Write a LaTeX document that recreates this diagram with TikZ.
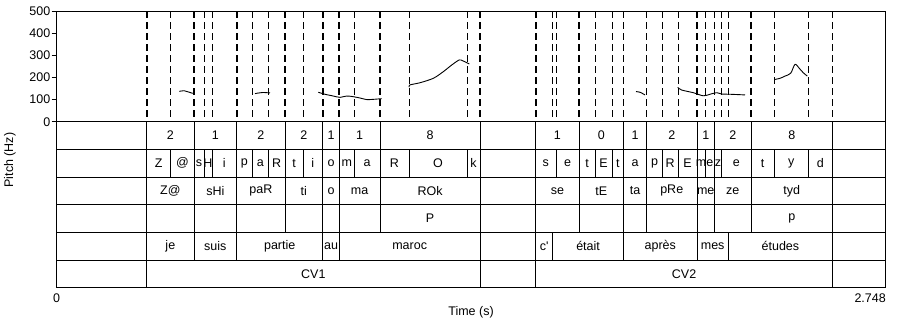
\documentclass[tikz,border=0pt]{standalone}
\usepackage{fontspec}
\newfontfamily\praatfont{Liberation Sans}
% one interval tier: name, top, bottom, intervals a/b/label
\newcommand{\tierrow}[4]{%
  \draw[sep] (56.7,#3) -- (885.7,#3);
  \foreach \a/\b/\txt [count=\i] in {#4} {
    \draw[bound] (\a,#2) -- (\a,#3);
    \draw[bound] (\b,#2) -- (\b,#3);
    \node[lab] (#1-\i) at ({(\a+\b)/2},{(#2+#3)/2}) {\txt};
  }%
}

\begin{document}
\begin{tikzpicture}[x=1bp,y=-1bp]
\tikzstyle{lab}=[font=\praatfont\fontsize{12.5bp}{14bp}\selectfont,inner sep=0pt]
\tikzstyle{sep}=[line width=1bp]
\tikzstyle{bound}=[line width=0.8bp]
\tikzstyle{thickdash}=[line width=1.9bp,dash pattern=on 6.5bp off 4.5bp]
\tikzstyle{thindash}=[line width=0.8bp,dash pattern=on 6.5bp off 4.5bp]
\tikzstyle{f0}=[line width=0.9bp,line join=round]
\useasboundingbox (0,0) rectangle (906,323);
\coordinate (TL) at (56.7,11);
\coordinate (BR) at (885.7,121.7);
\coordinate (GB) at (885.7,287.7);
% pitch panel
\draw[sep] (TL) rectangle (BR);
\begin{scope}[shift={(0,121.7)},y=0.2214bp]
  \foreach \v in {0,100,...,500} {
    \draw[sep] (51.7,\v) -- (56.7,\v);
    \node[lab,anchor=east] (hz\v) at (50.5,\v) {\v};
  }
  \foreach \x in {146.7,194,236.7,285,322.7,339.3,380,480,535.7,579,623.5,646.5,697,714.5,751,832.5}
    \draw[thickdash] (\x,500) -- (\x,0);
  \foreach \x in {170.7,204,212,252,268.5,303,354.3,409,467,552.7,556,595,612,662.5,678,705,721.7,728.3,774.3,808.3}
    \draw[thindash] (\x,500) -- (\x,0);
  \draw[f0] plot[smooth] coordinates {(179.3,137) (184,140) (188,135) (192.7,128)};
  \draw[f0] plot[smooth] coordinates {(255,127) (259,130) (263,132) (270,130)};
  \draw[f0] plot[smooth] coordinates {(318.3,133) (325,124) (333.3,116) (340,110) (346.7,116) (353.3,113) (360,107) (366.7,100) (373.3,101) (381.7,104)};
  \draw[f0] plot[smooth] coordinates {(409.3,156) (409.8,166) (420,176) (433.3,196) (443.3,226) (451.7,256) (459.3,279) (463.3,274) (469.3,261)};
  \draw[f0] plot[smooth] coordinates {(636,136) (640,133) (645,121)};
  \draw[f0] plot[smooth] coordinates {(677.7,155) (681.7,143) (693.3,131) (703.3,117) (710,124) (716.7,131) (721.7,125) (730,124) (745,121)};
  \draw[f0] plot[smooth] coordinates {(775,191) (780,196) (785,206) (790.7,219) (795,259) (799.3,241) (803.3,221) (807.3,206)};
\end{scope}
% tiers
\tierrow{num}{121.7}{149.4}{146.7/194/2, 194/236.7/1, 236.7/285/2, 285/322.7/2, 322.7/339.3/1, 339.3/380/1, 380/480/8, 535.7/579/1, 579/623.5/0, 623.5/646.5/1, 646.5/697/2, 697/714.5/1, 714.5/751/2, 751/832.5/8}
\tierrow{phone}{149.4}{177}{146.7/170.7/Z, 170.7/194/@, 194/204/s, 204/212/H, 212/236.7/i, 236.7/252/p, 252/268.5/a, 268.5/285/R, 285/303/t, 303/322.7/i, 322.7/339.3/o, 339.3/354.3/m, 354.3/380/a, 380/409/R, 409/467/O, 467/480/k, 535.7/556/s, 556/579/e, 579/595/t, 595/612/E, 612/623.5/t, 623.5/646.5/a, 646.5/662.5/p, 662.5/678/R, 678/697/E, 697/705/m, 705/714.5/e, 714.5/721.7/z, 721.7/751/e, 751/774.3/t, 774.3/808.3/y, 808.3/832.5/d}
\tierrow{syl}{177}{204.7}{146.7/194/Z@, 194/236.7/sHi, 236.7/285/paR, 285/322.7/ti, 322.7/339.3/o, 339.3/380/ma, 380/480/ROk, 535.7/579/se, 579/623.5/tE, 623.5/646.5/ta, 646.5/697/pRe, 697/714.5/me, 714.5/751/ze, 751/832.5/tyd}
\tierrow{phr}{204.7}{232.4}{146.7/194/{}, 194/236.7/{}, 236.7/285/{}, 285/322.7/{}, 322.7/339.3/{}, 339.3/380/{}, 380/480/P, 535.7/579/{}, 579/623.5/{}, 623.5/646.5/{}, 646.5/697/{}, 697/714.5/{}, 714.5/751/{}, 751/832.5/p}
\tierrow{word}{232.4}{260}{146.7/194/je, 194/236.7/suis, 236.7/322.7/partie, 322.7/339.3/au, 339.3/480/maroc, 535.7/552.7/c', 552.7/623.5/était, 623.5/697/après, 697/728.3/mes, 728.3/832.5/études}
\tierrow{cv}{260}{287.7}{146.7/480/CV1, 535.7/832.5/CV2}
\draw[line width=1.3bp] (56.7,121.7) rectangle (GB);
% axis texts
\node[lab,rotate=90] (ylab) at (10,160) {Pitch (Hz)};
\node[lab] (t0) at (56.7,298) {0};
\node[lab,anchor=east] (tend) at (886,298) {2.748};
\node[lab] (xlab) at (471,312) {Time (s)};
\end{tikzpicture}
\end{document}
